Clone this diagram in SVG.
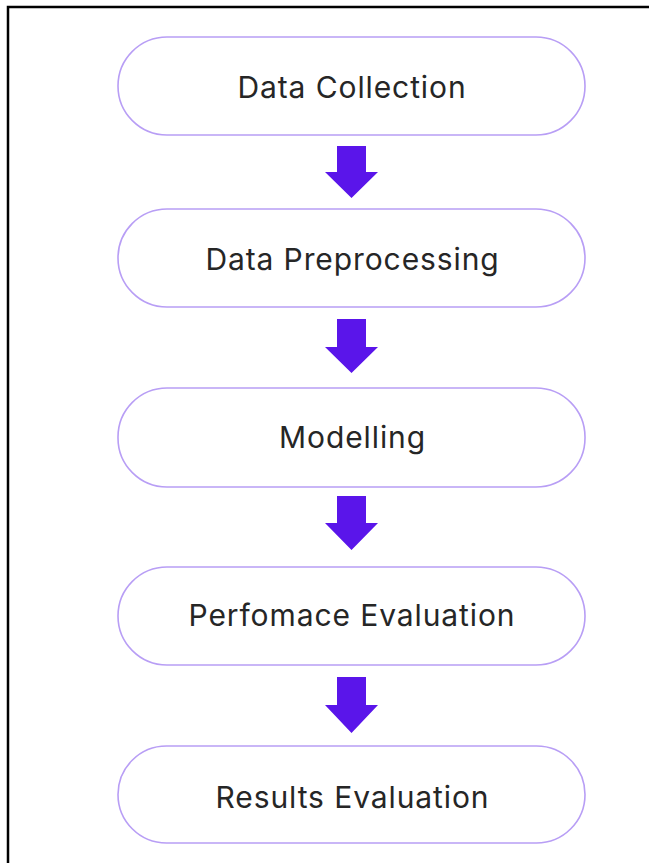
<svg xmlns="http://www.w3.org/2000/svg" width="649" height="863" viewBox="0 0 649 863">
<style>
.box{fill:#fff;stroke:#b89ef5;stroke-width:1.6}
.lbl{font-family:Inter,"Noto Sans","Liberation Sans",sans-serif;font-size:30px;letter-spacing:0.9px;fill:#262626;text-anchor:middle}
.arr{fill:#5a15ea}
</style>
<rect width="649" height="863" fill="#fff"/>
<path d="M8 863 V7 H649" fill="none" stroke="#000" stroke-width="2.5"/>
<g id="n1"><rect class="box" x="118" y="37" width="467" height="98" rx="49"/><text class="lbl" x="352" y="98">Data Collection</text></g>
<g id="n2"><rect class="box" x="118" y="209" width="467" height="98" rx="49"/><text class="lbl" x="352.5" y="270">Data Preprocessing</text></g>
<g id="n3"><rect class="box" x="118" y="388" width="467" height="99" rx="49"/><text class="lbl" x="352.5" y="448">Modelling</text></g>
<g id="n4"><rect class="box" x="118" y="567" width="467" height="98" rx="49"/><text class="lbl" x="352" y="626">Perfomace Evaluation</text></g>
<g id="n5"><rect class="box" x="118" y="746" width="467" height="97" rx="48.5"/><text class="lbl" x="352.5" y="808">Results Evaluation</text></g>
<g id="connectors">
<path class="arr" d="M337 146 H366 V172 H378 L351.5 198 L325 172 H337 Z"/>
<path class="arr" d="M337 319 H366 V347 H378 L351.5 373 L325 347 H337 Z"/>
<path class="arr" d="M337 496 H366 V523 H378 L351.5 550 L325 523 H337 Z"/>
<path class="arr" d="M337 677 H366 V705 H378 L351.5 733 L325 705 H337 Z"/>
</g>
</svg>
